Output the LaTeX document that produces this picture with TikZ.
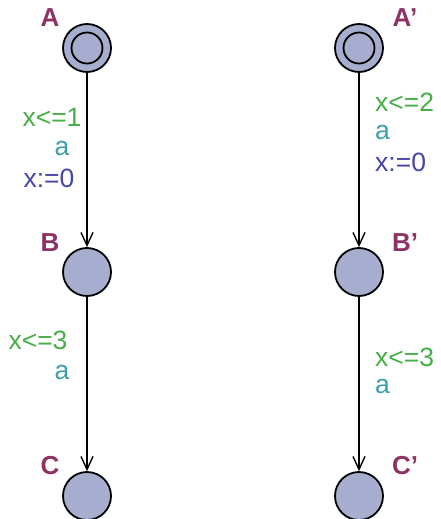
\documentclass[tikz,border=0pt]{standalone}
\usepackage{fontspec}
\setmainfont{Liberation Sans}
\usetikzlibrary{arrows.meta}
\definecolor{locfill}{RGB}{166,173,206}
\definecolor{lblname}{RGB}{140,50,100}
\definecolor{grd}{RGB}{70,175,70}
\definecolor{syn}{RGB}{60,160,170}
\definecolor{asg}{RGB}{70,70,170}
\begin{document}
\begin{tikzpicture}[x=1pt,y=-1pt,
  loc/.style={circle,draw=black,line width=1.8pt,fill=locfill,minimum size=48pt,inner sep=0pt},
  initin/.style={circle,draw=black,line width=1.8pt,minimum size=31pt,inner sep=0pt},
  lname/.style={text=lblname,font=\fontsize{26}{30}\selectfont\bfseries,inner sep=0pt},
  lab/.style={font=\fontsize{26.5}{30}\selectfont,inner sep=0pt},
  guard/.style={lab,text=grd},
  sync/.style={lab,text=syn},
  assign/.style={lab,text=asg},
  edge/.style={line width=1.4pt,-{Straight Barb[length=13pt,width=12pt,line width=1.4pt]}}]
\useasboundingbox (0,0) rectangle (440,519);
% left automaton
\node[loc] (A) at (87,48) {};
\node[initin] (Ai) at (87,48) {};
\node[loc] (B) at (87,272) {};
\node[loc] (C) at (87,496) {};
\node[lname] (An) at (50,18) {A};
\node[lname] (Bn) at (50,243) {B};
\node[lname] (Cn) at (50,466) {C};
\draw[edge] (A) -- (B);
\draw[edge] (B) -- (C);
\node[guard] (g1) at (52,117) {x<=1};
\node[sync] (s1) at (62,148) {a};
\node[assign] (u1) at (49,178) {x:=0};
\node[guard] (g2) at (38,340) {x<=3};
\node[sync] (s2) at (62,372) {a};
% right automaton
\node[loc] (A2) at (359,48) {};
\node[initin] (A2i) at (359,48) {};
\node[loc] (B2) at (359,272) {};
\node[loc] (C2) at (359,496) {};
\node[lname] (A2n) at (405,18) {A’};
\node[lname] (B2n) at (405,243) {B’};
\node[lname] (C2n) at (405,466) {C’};
\draw[edge] (A2) -- (B2);
\draw[edge] (B2) -- (C2);
\node[guard,anchor=west] (g3) at (375,102) {x<=2};
\node[sync,anchor=west] (s3) at (375,132) {a};
\node[assign,anchor=west] (u3) at (375,162) {x:=0};
\node[guard,anchor=west] (g4) at (375,357) {x<=3};
\node[sync,anchor=west] (s4) at (375,386) {a};
\end{tikzpicture}
\end{document}
